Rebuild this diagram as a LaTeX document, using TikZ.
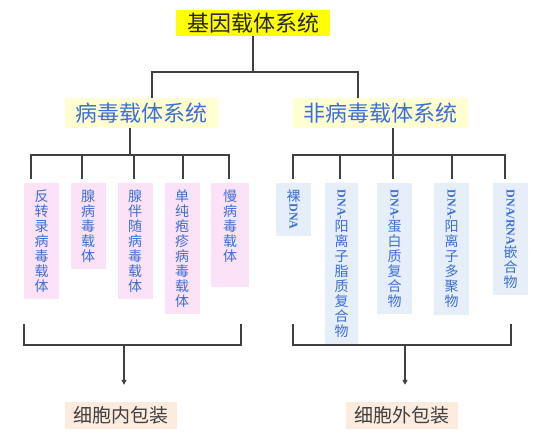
\documentclass[tikz,border=0pt]{standalone}
\usepackage{graphicx}
\usepackage{fontspec}
\setmainfont{Noto Sans CJK SC}
\newfontfamily\latinf{Liberation Serif}
\usetikzlibrary{arrows.meta}
\definecolor{txtblue}{HTML}{3D6FD6}
\definecolor{topyellow}{HTML}{FFFF00}
\definecolor{subyellow}{HTML}{FFFFD2}
\definecolor{leafpink}{HTML}{FBE2F6}
\definecolor{leafblue}{HTML}{E6EEF9}
\definecolor{packpeach}{HTML}{FDEBDD}
\definecolor{linegray}{HTML}{404040}
\newcommand{\vlat}[1]{\rotatebox[origin=c]{-90}{\latinf\fontsize{12}{12}\selectfont\bfseries #1}}
\begin{document}
\begin{tikzpicture}[x=1pt,y=-1pt,
 conn/.style={draw=linegray, line width=1.2pt},
 topbox/.style={fill=topyellow, text=black!85, font=\fontsize{22}{22}\selectfont, minimum width=154pt, minimum height=26pt, inner sep=0pt},
 subbox/.style={fill=subyellow, text=txtblue, font=\fontsize{22}{22}\selectfont, minimum height=30pt, inner sep=0pt},
 leafp/.style={fill=leafpink, text=txtblue, font=\fontsize{14}{15}\selectfont, align=center, anchor=north, minimum width=35pt, inner xsep=0pt, inner ysep=6.5pt},
 leafb/.style={leafp, fill=leafblue},
 packbox/.style={fill=packpeach, text=black!75, font=\fontsize{19}{19}\selectfont, minimum width=112pt, minimum height=27pt, inner sep=0pt},
 arr/.style={conn, -{Triangle[width=5pt,length=5pt]}}
]
\useasboundingbox[fill=white] (0,0) rectangle (543,436);

% top
\node[topbox] (T) at (253,23) {基因载体系统};
\node[subbox, minimum width=153pt] (L) at (141.5,113) {病毒载体系统};
\node[subbox, minimum width=175pt] (R) at (380.5,113) {非病毒载体系统};

\coordinate (j0) at (253,72);
\draw[conn] (T.south) -- (j0);
\draw[conn] (j0) -| ([xshift=10.5pt]L.north);
\draw[conn] (j0) -| ([xshift=-22.5pt]R.north);

% left leaves
\node[leafp] (a1) at (41.5,183) {反\\转\\录\\病\\毒\\载\\体};
\node[leafp] (a2) at (88,183) {腺\\病\\毒\\载\\体};
\node[leafp] (a3) at (135,183) {腺\\伴\\随\\病\\毒\\载\\体};
\node[leafp] (a4) at (182,183) {单\\纯\\疱\\疹\\病\\毒\\载\\体};
\node[leafp, minimum width=38pt] (a5) at (230,183) {慢\\病\\毒\\载\\体\\[4pt]};

\coordinate (jl) at (130,155);
\draw[conn] ([xshift=-11.5pt]L.south) -- (jl);
\draw[conn] (jl) -| ([xshift=-10.5pt,yshift=4pt]a1.north);
\draw[conn] (jl) -| ([xshift=-1pt,yshift=4pt]a3.north);
\draw[conn] (jl) -| ([xshift=-1pt,yshift=4pt]a5.north);
\draw[conn] ([xshift=-6pt,yshift=4pt]a2.north) -- ([xshift=-6pt]a2.north |- jl);
\draw[conn] ([xshift=1pt,yshift=4pt]a4.north) -- ([xshift=1pt]a4.north |- jl);

% right leaves
\node[leafb] (b1) at (293.5,183) {裸\\\vlat{DNA}};
\node[leafb, minimum width=33pt] (b2) at (341.5,183) {\vlat{DNA-}\\阳\\离\\子\\脂\\质\\复\\合\\物};
\node[leafb] (b3) at (394.5,183) {\vlat{DNA-}\\蛋\\白\\质\\复\\合\\物};
\node[leafb] (b4) at (451.5,183) {\vlat{DNA-}\\阳\\离\\子\\多\\聚\\物};
\node[leafb] (b5) at (510.5,183) {\vlat{DNA/RNA}\\嵌\\合\\物};

\coordinate (jr) at (393,155);
\draw[conn] ([xshift=12.5pt]R.south) -- (jr);
\draw[conn] (jr) -| ([xshift=-0.5pt,yshift=4pt]b1.north);
\draw[conn] (jr) -| ([xshift=-5.5pt,yshift=4pt]b5.north);
\draw[conn] ([xshift=-1.5pt,yshift=4pt]b2.north) -- ([xshift=-1.5pt]b2.north |- jr);
\draw[conn] ([xshift=-1.5pt,yshift=4pt]b3.north) -- ([xshift=-1.5pt]b3.north |- jr);
\draw[conn] ([xshift=0.5pt,yshift=4pt]b4.north) -- ([xshift=0.5pt]b4.north |- jr);

% bottom labels
\node[packbox] (P1) at (121,415.5) {细胞内包装};
\node[packbox] (P2) at (402,415.5) {细胞外包装};

% brackets
\coordinate (bl1) at (24,324);
\coordinate (bl2) at (241,324);
\coordinate (blc) at (124,345);
\draw[conn] (bl1) |- (blc) -| (bl2);
\draw[arr] (blc) -- ([xshift=3pt,yshift=17pt]P1.north);

\coordinate (br1) at (293,324);
\coordinate (br2) at (511,324);
\coordinate (brc) at (405,345);
\draw[conn] (br1) |- (brc) -| (br2);
\draw[arr] (brc) -- ([xshift=3pt,yshift=17pt]P2.north);
\end{tikzpicture}
\end{document}
